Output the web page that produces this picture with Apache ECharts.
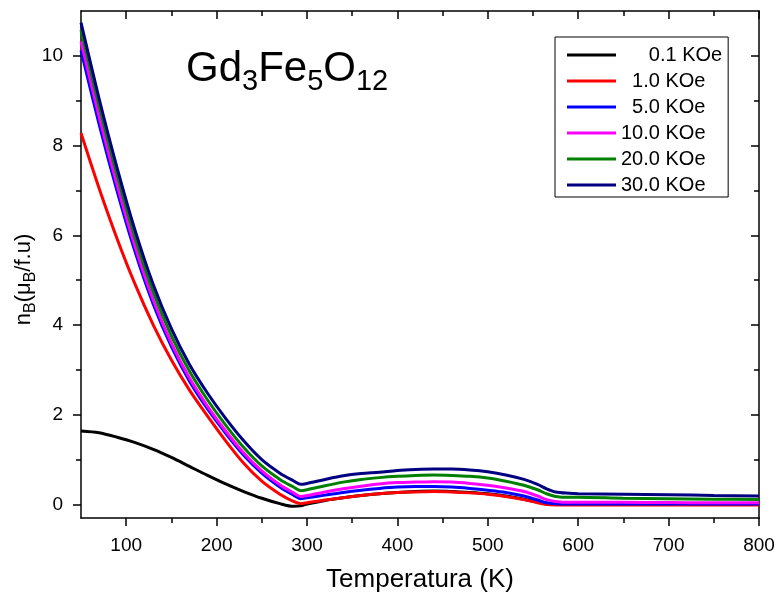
<!DOCTYPE html>
<html>
<head>
<meta charset="utf-8">
<script src="https://cdn.jsdelivr.net/npm/echarts@6/dist/echarts.min.js"></script>
<style>
html, body { margin: 0; padding: 0; background: #fff; }
#main { width: 779px; height: 595px; }
</style>
</head>
<body>
<div id="main"></div>
<script>
// temperatura (K)
var temps = [50, 70, 90, 110, 130, 150, 170, 190, 210, 230, 250, 270, 285, 293, 300, 320, 340, 360, 380, 400,
             420, 440, 460, 480, 500, 520, 540, 555, 565, 575, 590, 600, 650, 700, 750, 800];

// nB (uB/f.u) para cada campo
var m01 = [1.64, 1.60, 1.50, 1.38, 1.23, 1.05, 0.85, 0.65, 0.46, 0.29, 0.14, 0.02, -0.04, -0.03, 0.01, 0.09, 0.15, 0.20, 0.24, 0.27,
           0.29, 0.30, 0.29, 0.27, 0.24, 0.19, 0.12, 0.05, 0.01, 0.00, 0.00, 0.00, 0.00, 0.00, 0.00, 0.00];
var m1  = [8.28, 7.05, 5.92, 4.90, 4.00, 3.22, 2.55, 1.97, 1.42, 0.92, 0.52, 0.23, 0.07, 0.02, 0.04, 0.10, 0.15, 0.20, 0.24, 0.27,
           0.28, 0.29, 0.28, 0.26, 0.23, 0.18, 0.11, 0.04, 0.00, -0.01, -0.01, -0.01, -0.01, -0.01, -0.01, -0.01];
var m5  = [10.12, 8.48, 6.98, 5.62, 4.46, 3.52, 2.75, 2.13, 1.59, 1.10, 0.70, 0.39, 0.21, 0.13, 0.15, 0.21, 0.27, 0.32, 0.36, 0.39,
           0.40, 0.40, 0.39, 0.36, 0.32, 0.27, 0.19, 0.10, 0.04, 0.02, 0.01, 0.01, 0.01, 0.01, 0.01, 0.01];
var m10 = [10.32, 8.65, 7.12, 5.74, 4.56, 3.60, 2.82, 2.19, 1.64, 1.15, 0.75, 0.44, 0.26, 0.18, 0.20, 0.28, 0.35, 0.41, 0.46, 0.49,
           0.50, 0.51, 0.50, 0.47, 0.43, 0.37, 0.29, 0.19, 0.11, 0.07, 0.05, 0.05, 0.05, 0.045, 0.04, 0.04];
var m20 = [10.58, 8.88, 7.33, 5.93, 4.73, 3.76, 2.97, 2.33, 1.77, 1.27, 0.86, 0.56, 0.39, 0.31, 0.33, 0.42, 0.50, 0.56, 0.60, 0.63,
           0.65, 0.66, 0.65, 0.63, 0.59, 0.52, 0.43, 0.33, 0.24, 0.18, 0.16, 0.16, 0.14, 0.13, 0.12, 0.11];
var m30 = [10.74, 9.05, 7.50, 6.10, 4.90, 3.92, 3.12, 2.48, 1.92, 1.42, 1.00, 0.70, 0.53, 0.45, 0.47, 0.56, 0.64, 0.69, 0.72, 0.76,
           0.78, 0.79, 0.79, 0.77, 0.73, 0.66, 0.56, 0.45, 0.35, 0.28, 0.25, 0.24, 0.23, 0.22, 0.20, 0.19];

var campos = ['0.1 KOe', '1.0 KOe', '5.0 KOe', '10.0 KOe', '20.0 KOe', '30.0 KOe'];
var cores = ['#000000', '#ff0000', '#0000ff', '#ff00ff', '#008000', '#000080'];
var valores = [m01, m1, m5, m10, m20, m30];

var xMajor = [100, 200, 300, 400, 500, 600, 700, 800];
var xMinor = [150, 250, 350, 450, 550, 650, 750];
var yMajor = [0, 2, 4, 6, 8, 10];
var yMinor = [1, 3, 5, 7, 9];

var fonte = 'Liberation Sans, Arial, sans-serif';
var myChart = echarts.init(document.getElementById('main'));

function pares(vals) {
    var out = [];
    for (var i = 0; i < temps.length; i++) {
        out.push([temps[i], vals[i]]);
    }
    return out;
}

// um eixo "so com ticks" para fazer os ticks menores e os eixos espelhados
function eixo(pos, min, max, ticks, len, inside, main) {
    return {
        type: 'value',
        position: pos,
        min: min,
        max: max,
        axisLine: { show: main, onZero: false, lineStyle: { color: '#000', width: 1.5 } },
        axisTick: { show: true, inside: inside, length: len, customValues: ticks, lineStyle: { color: '#000', width: 1.5 } },
        axisLabel: { show: false },
        splitLine: { show: false }
    };
}

var xBottom = eixo('bottom', 50, 800, xMajor, 8, false, true);
xBottom.axisLabel = { show: true, customValues: xMajor, margin: 18, color: '#000', fontSize: 19, fontFamily: fonte };
xBottom.name = 'Temperatura (K)';
xBottom.nameLocation = 'middle';
xBottom.nameGap = 49;
xBottom.nameMoveOverlap = false;
xBottom.nameTextStyle = { color: '#000', fontSize: 26, fontFamily: fonte };

var yLeft = eixo('left', -0.3, 11, yMajor, 8, false, true);
yLeft.axisLabel = { show: true, customValues: yMajor, margin: 18, color: '#000', fontSize: 19, fontFamily: fonte };
yLeft.name = 'n{s|B}(\u03bc{s|B}/f.u)';
yLeft.nameLocation = 'middle';
yLeft.nameGap = 42;
yLeft.nameMoveOverlap = false;
yLeft.nameTextStyle = {
    color: '#000', fontSize: 22, fontFamily: fonte, padding: [0, 30, 0, 0],
    rich: { s: { fontSize: 16, fontFamily: fonte, color: '#000', padding: [14, 0, 0, 0] } }
};

var series = [];
for (var k = 0; k < campos.length; k++) {
    series.push({
        name: campos[k],
        type: 'line',
        data: pares(valores[k]),
        showSymbol: false,
        smooth: 0.3,
        color: cores[k],
        lineStyle: { color: cores[k], width: 3 },
        xAxisIndex: 0,
        yAxisIndex: 0,
        z: 2 + k
    });
}

var espacos = ['     ', '  ', '  ', '', '', ''];

var option = {
    backgroundColor: '#fff',
    animation: false,
    grid: { left: 81, right: 20, top: 11, bottom: 77, outerBoundsMode: 'none', containLabel: false },
    xAxis: [
        xBottom,
        eixo('bottom', 50, 800, xMinor, 5, false, false),
        eixo('top', 50, 800, xMajor, 8, true, true),
        eixo('top', 50, 800, xMinor, 5, true, false)
    ],
    yAxis: [
        yLeft,
        eixo('left', -0.3, 11, yMinor, 5, false, false),
        eixo('right', -0.3, 11, yMajor, 8, true, true),
        eixo('right', -0.3, 11, yMinor, 5, true, false)
    ],
    legend: {
        data: campos,
        orient: 'vertical',
        left: 555,
        top: 37,
        padding: [8, 6, 2, 12],
        itemGap: 6,
        itemWidth: 49,
        itemHeight: 3,
        icon: 'rect',
        borderColor: '#000',
        borderWidth: 1,
        textStyle: { color: '#000', fontSize: 20, lineHeight: 20, fontFamily: fonte },
        formatter: function (name) {
            return espacos[campos.indexOf(name)] + name;
        }
    },
    graphic: [{
        type: 'text',
        left: 186,
        top: 48,
        style: {
            text: 'Gd{s|3}Fe{s|5}O{s|12}',
            fontSize: 42,
            fontFamily: fonte,
            fill: '#000',
            rich: { s: { fontSize: 29, fontFamily: fonte, fill: '#000', padding: [26, 0, 0, 0] } }
        }
    }],
    series: series
};

myChart.setOption(option);
</script>
</body>
</html>
